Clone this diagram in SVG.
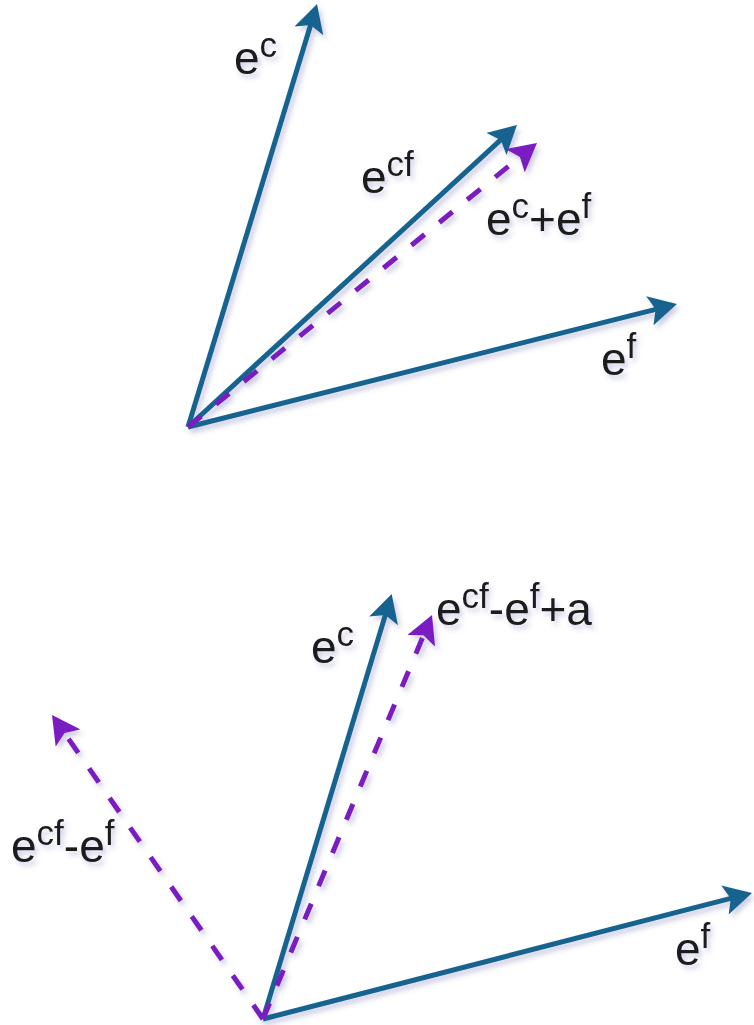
<svg xmlns="http://www.w3.org/2000/svg" width="754" height="1025" viewBox="0 0 754 1025">
<style>
.vb{fill:none;stroke:#176490;stroke-width:5}
.vp{fill:none;stroke:#7A1CC2;stroke-width:5;stroke-dasharray:17 19}
.lbl{font-family:"Liberation Sans",Arial,sans-serif;font-size:46px;fill:#1a1a1a}
.sup{font-size:35px}
</style>
<defs>
<filter id="sh" x="-20%" y="-20%" width="140%" height="140%">
<feGaussianBlur in="SourceAlpha" stdDeviation="2.5"/>
<feOffset dx="3" dy="4" result="b"/>
<feFlood flood-color="#5a5aa8" flood-opacity="0.3"/>
<feComposite in2="b" operator="in" result="s"/>
<feMerge><feMergeNode in="s"/><feMergeNode in="SourceGraphic"/></feMerge>
</filter>
<marker id="ab" viewBox="0 0 28 30" refX="7" refY="15" markerWidth="28" markerHeight="30" markerUnits="userSpaceOnUse" orient="auto">
<path d="M0,0 L28,15 L0,30 L6,15 Z" fill="#176490"/>
</marker>
<marker id="ap" viewBox="0 0 28 30" refX="7" refY="15" markerWidth="28" markerHeight="30" markerUnits="userSpaceOnUse" orient="auto">
<path d="M0,0 L28,15 L0,30 L6,15 Z" fill="#7A1CC2"/>
</marker>
</defs>
<g id="connectors" filter="url(#sh)">
<line class="vb" x1="188" y1="427" x2="310.9" y2="24.1" marker-end="url(#ab)"/>
<line class="vb" x1="188" y1="427" x2="501.5" y2="139.2" marker-end="url(#ab)"/>
<line class="vb" x1="188" y1="427" x2="656.6" y2="309.1" marker-end="url(#ab)"/>
<line class="vp" x1="188" y1="427" x2="520.7" y2="156.3" marker-end="url(#ap)"/>
<line class="vb" x1="263" y1="1019" x2="385.6" y2="614.1" marker-end="url(#ab)"/>
<line class="vb" x1="263" y1="1019" x2="731.7" y2="898.2" marker-end="url(#ab)"/>
<line class="vp" x1="263" y1="1019" x2="423.9" y2="634.4" marker-end="url(#ap)"/>
<line class="vp" x1="263" y1="1019" x2="64" y2="732.3" marker-end="url(#ap)"/>
</g>
<g id="label-ec-top" filter="url(#sh)"><text class="lbl" x="234" y="74">e<tspan class="sup" dy="-17">c</tspan></text></g>
<g id="label-ecf-top" filter="url(#sh)"><text class="lbl" x="361" y="193">e<tspan class="sup" dy="-17">cf</tspan></text></g>
<g id="label-ecef-top" filter="url(#sh)"><text class="lbl" x="486" y="235">e<tspan class="sup" dy="-17">c</tspan><tspan dy="17">+e</tspan><tspan class="sup" dy="-17">f</tspan></text></g>
<g id="label-ef-top" filter="url(#sh)"><text class="lbl" x="601" y="375">e<tspan class="sup" dy="-17">f</tspan></text></g>
<g id="label-ec-bot" filter="url(#sh)"><text class="lbl" x="311" y="663">e<tspan class="sup" dy="-17">c</tspan></text></g>
<g id="label-ecfefa-bot" filter="url(#sh)"><text class="lbl" x="436" y="625">e<tspan class="sup" dy="-17">cf</tspan><tspan dy="17">-e</tspan><tspan class="sup" dy="-17">f</tspan><tspan dy="17">+a</tspan></text></g>
<g id="label-ecfef-bot" filter="url(#sh)"><text class="lbl" x="11" y="862">e<tspan class="sup" dy="-17">cf</tspan><tspan dy="17">-e</tspan><tspan class="sup" dy="-17">f</tspan></text></g>
<g id="label-ef-bot" filter="url(#sh)"><text class="lbl" x="675" y="965">e<tspan class="sup" dy="-17">f</tspan></text></g>
</svg>
